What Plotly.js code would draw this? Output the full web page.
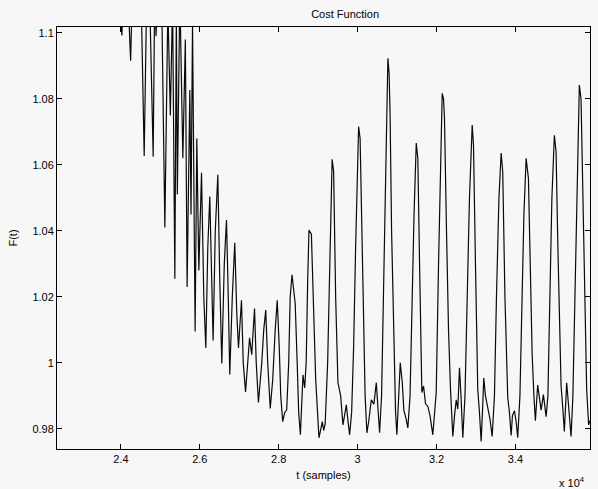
<!DOCTYPE html>
<html>
<head>
<meta charset="utf-8">
<script src="https://cdn.plot.ly/plotly-3.0.1.min.js"></script>
<style>
  html, body { margin: 0; padding: 0; background: #f7f7f7; }
  #chart { width: 598px; height: 489px; }
</style>
</head>
<body>
<div id="chart"></div>
<script>
// Sample index (t) and cost function F(t)
const tSamples = [
  22380, 22709, 23089, 23468, 23772, 23949, 24025, 24076, 24177, 24246,
  24304, 24430, 24506, 24590, 24658, 24734, 24818, 24856, 24891, 24937,
  25038, 25114, 25190, 25253, 25309, 25367, 25405, 25430, 25494, 25570,
  25633, 25678, 25747, 25777, 25815, 25881, 25924, 25975, 26043, 26101,
  26152, 26202, 26253, 26291, 26337, 26392, 26456, 26506, 26557, 26620,
  26676, 26721, 26759, 26823, 26886, 26937, 26980, 27056, 27101, 27159,
  27215, 27261, 27316, 27387, 27430, 27486, 27570, 27620, 27671, 27721,
  27785, 27848, 27911, 27962, 28013, 28051, 28101, 28152, 28202, 28253,
  28291, 28337, 28380, 28418, 28468, 28506, 28549, 28582, 28615, 28658,
  28696, 28734, 28767, 28828, 28873, 28937, 29020, 29063, 29106, 29139,
  29177, 29240, 29291, 29354, 29392, 29443, 29501, 29570, 29628, 29671,
  29714, 29759, 29797, 29848, 29899, 29949, 30025, 30063, 30094, 30139,
  30190, 30235, 30278, 30347, 30413, 30473, 30519, 30557, 30607, 30658,
  30709, 30767, 30797, 30823, 30861, 30919, 30962, 30995, 31038, 31081,
  31132, 31172, 31228, 31273, 31329, 31380, 31430, 31486, 31526, 31570,
  31628, 31671, 31721, 31780, 31835, 31906, 31949, 31992, 32051, 32101,
  32144, 32177, 32202, 32253, 32304, 32354, 32413, 32456, 32499, 32539,
  32582, 32620, 32666, 32721, 32772, 32835, 32904, 32937, 32987, 33045,
  33088, 33131, 33164, 33197, 33240, 33299, 33354, 33410, 33468, 33519,
  33582, 33638, 33678, 33734, 33805, 33848, 33891, 33924, 33975, 34020,
  34058, 34114, 34164, 34215, 34271, 34329, 34375, 34423, 34468, 34506,
  34564, 34607, 34650, 34709, 34777, 34823, 34873, 34924, 34987, 35030,
  35076, 35157, 35202, 35240, 35299, 35349, 35410, 35456, 35506, 35557,
  35620, 35663, 35709, 35759, 35805, 35856, 35886
];
const costF = [
  1.140, 1.125, 1.135, 1.120, 1.130, 1.112, 1.0992, 1.118, 1.112, 1.0916,
  1.120, 1.108, 1.115, 1.0627, 1.115, 1.108, 1.0625, 1.112, 1.099, 1.118,
  1.106, 1.041, 1.108, 1.075, 1.110, 1.0255, 1.106, 1.051, 1.112, 1.062,
  1.098, 1.023, 1.0827, 1.045, 1.103, 1.0095, 1.068, 1.028, 1.0576, 1.020,
  1.0045, 1.035, 1.0504, 1.030, 1.0068, 1.040, 1.057, 1.025, 0.9998, 1.030,
  1.0433, 1.020, 0.9965, 1.020, 1.0364, 1.015, 1.0045, 1.019, 1.000, 0.9912,
  1.000, 1.0076, 1.0025, 1.0165, 1.000, 0.988, 1.000, 1.010, 1.016, 1.000,
  0.9862, 0.995, 1.010, 1.019, 1.005, 0.990, 0.9822, 0.985, 0.9858, 1.000,
  1.020, 1.0267, 1.022, 1.018, 1.000, 0.985, 0.9782, 0.990, 0.9964, 0.9924,
  1.000, 1.025, 1.0403, 1.039, 1.020, 0.995, 0.9773, 0.980, 0.9822, 0.9795,
  0.9815, 1.000, 1.030, 1.0617, 1.058, 1.020, 0.994, 0.990, 0.9812, 0.985,
  0.9873, 0.982, 0.9782, 0.985, 1.005, 1.035, 1.0716, 1.068, 1.050, 1.020,
  0.990, 0.9788, 0.982, 0.9888, 0.9875, 0.994, 0.986, 0.9788, 0.990, 1.020,
  1.060, 1.0923, 1.088, 1.075, 1.040, 1.003, 0.985, 0.9782, 0.990, 1.000,
  0.994, 0.9856, 0.983, 0.9803, 0.990, 1.020, 1.045, 1.0666, 1.062, 1.030,
  0.991, 0.993, 0.9876, 0.9868, 0.984, 0.9782, 0.985, 0.991, 1.030, 1.060,
  1.0817, 1.080, 1.074, 1.040, 1.010, 0.992, 0.9777, 0.984, 0.9888, 0.986,
  0.9985, 0.990, 0.9773, 0.990, 1.020, 1.050, 1.0721, 1.066, 1.030, 0.992,
  0.985, 0.9762, 0.985, 0.9954, 0.990, 0.9864, 0.983, 0.9777, 0.990, 1.020,
  1.050, 1.0636, 1.058, 1.020, 0.9895, 0.985, 0.978, 0.984, 0.9855, 0.982,
  0.9773, 0.990, 1.020, 1.045, 1.062, 1.056, 1.030, 1.003, 0.990, 0.9825,
  0.9933, 0.990, 0.9857, 0.9904, 0.9837, 0.990, 1.020, 1.050, 1.069, 1.064,
  1.035, 0.993, 0.986, 0.9792, 0.994, 0.9866, 0.9777, 0.990, 1.020, 1.055,
  1.0842, 1.080, 1.050, 1.010, 0.992, 0.9812, 0.9825
];

const xTickVals = [24000, 26000, 28000, 30000, 32000, 34000];
const xTickText = ['2.4', '2.6', '2.8', '3', '3.2', '3.4'];
const yTickVals = [0.98, 1.00, 1.02, 1.04, 1.06, 1.08, 1.10];
const yTickText = ['0.98', '1', '1.02', '1.04', '1.06', '1.08', '1.1'];

const FONT = 'Liberation Sans, Arial, Helvetica, sans-serif';

const trace = {
  x: tSamples,
  y: costF,
  type: 'scatter',
  mode: 'lines',
  line: { color: '#0a0a0a', width: 1.2 },
  hoverinfo: 'x+y'
};

const layout = {
  width: 598,
  height: 489,
  margin: { l: 57, r: 7.5, t: 27, b: 40 },
  paper_bgcolor: '#f7f7f7',
  plot_bgcolor: '#f7f7f7',
  showlegend: false,
  font: { family: FONT, size: 11, color: '#000' },
  title: {
    text: 'Cost Function',
    font: { family: FONT, size: 11, color: '#000' },
    x: 0.5405, xref: 'paper', xanchor: 'center',
    y: 0.971, yref: 'container', yanchor: 'middle'
  },
  xaxis: {
    range: [22380, 35890],
    tickmode: 'array',
    tickvals: xTickVals,
    ticktext: xTickText,
    ticks: 'inside',
    ticklen: 5,
    tickcolor: '#000',
    showline: true,
    linecolor: '#000',
    linewidth: 1,
    mirror: 'ticks',
    showgrid: false,
    zeroline: false,
    tickfont: { family: FONT, size: 11, color: '#000' },
    title: { text: 't (samples)', font: { family: FONT, size: 11, color: '#000' }, standoff: 7 }
  },
  yaxis: {
    range: [0.9739, 1.1018],
    tickmode: 'array',
    tickvals: yTickVals,
    ticktext: yTickText,
    ticks: 'inside',
    ticklen: 5,
    tickcolor: '#000',
    showline: true,
    linecolor: '#000',
    linewidth: 1,
    mirror: 'ticks',
    showgrid: false,
    zeroline: false,
    tickfont: { family: FONT, size: 11, color: '#000' },
    title: { text: 'F(t)', font: { family: FONT, size: 11, color: '#000' }, standoff: 12 }
  },
  annotations: [
    {
      text: 'x 10<sup>4</sup>',
      xref: 'paper', yref: 'paper',
      x: 0.995, y: -0.078,
      xanchor: 'right', yanchor: 'middle',
      showarrow: false,
      font: { family: FONT, size: 11, color: '#000' }
    }
  ]
};

Plotly.newPlot('chart', [trace], layout, { displayModeBar: false, staticPlot: true });
</script>
</body>
</html>
